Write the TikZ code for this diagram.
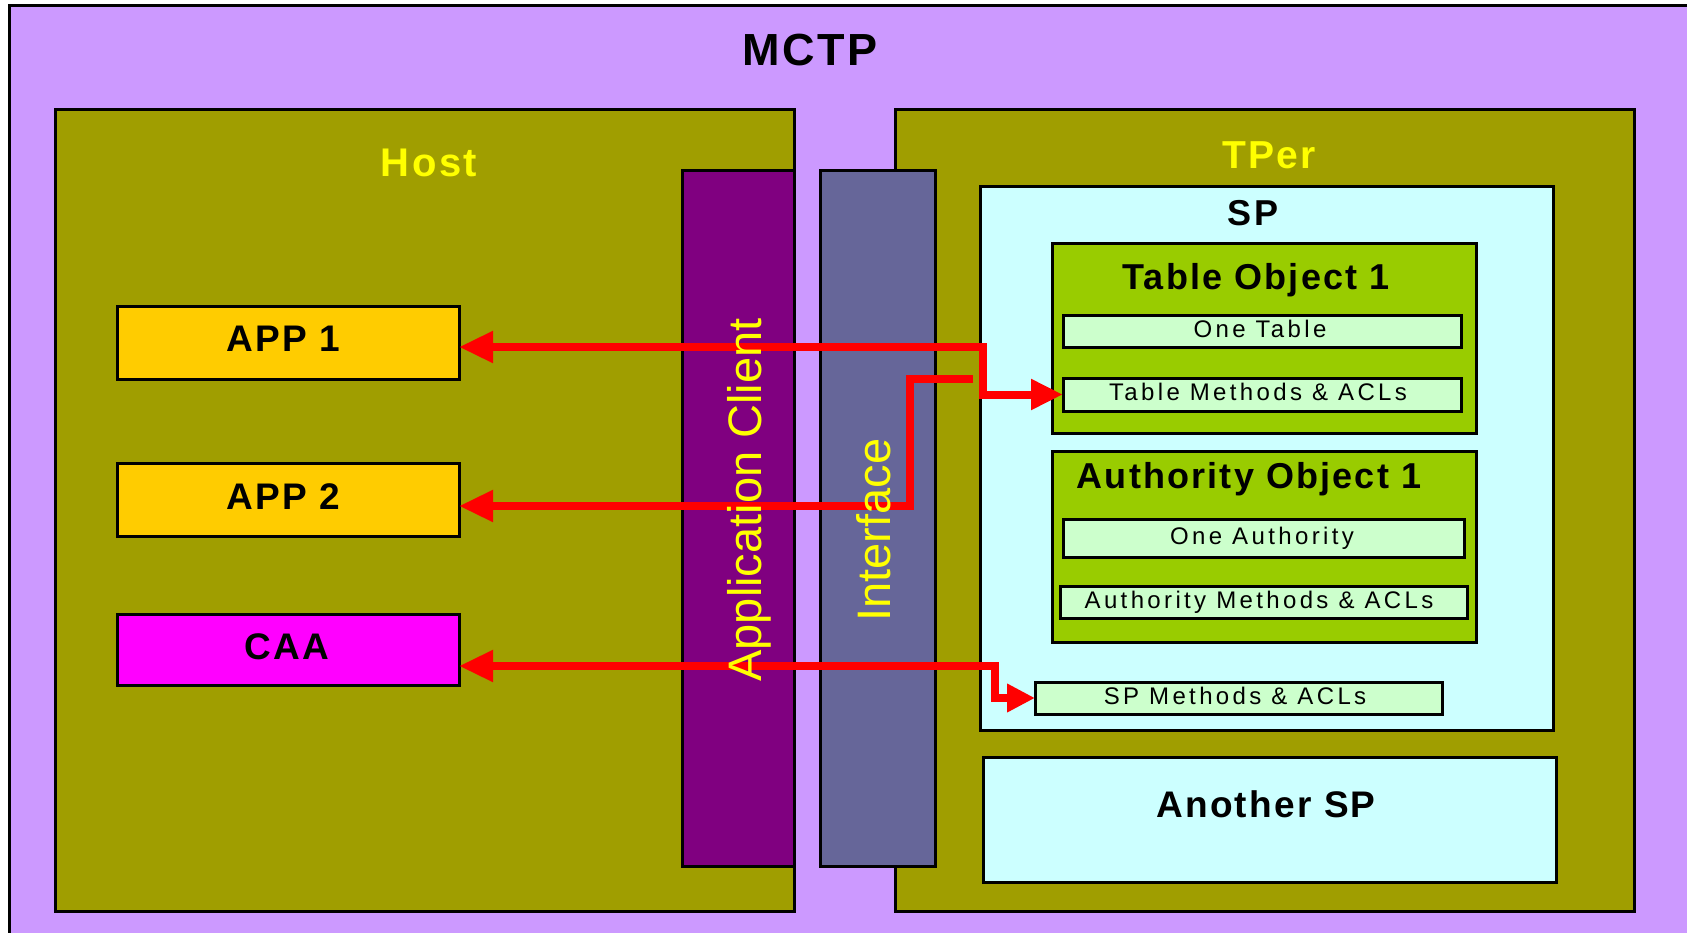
\documentclass[tikz,border=0pt]{standalone}
\usepackage{fontspec}
\setmainfont{Liberation Sans}
\newfontfamily\ttlfont[LetterSpace=6]{Liberation Sans}
\newfontfamily\smlfont[LetterSpace=14]{Liberation Sans}
\usetikzlibrary{arrows.meta}
\definecolor{lav}{HTML}{CC99FF}
\definecolor{olive}{RGB}{160,158,0}
\definecolor{purp}{HTML}{800080}
\definecolor{intf}{HTML}{666699}
\definecolor{spcyan}{HTML}{CCFFFF}
\definecolor{objgreen}{HTML}{99CC00}
\definecolor{ltgreen}{HTML}{CCFFCC}
\definecolor{appy}{HTML}{FFCC00}
\definecolor{caam}{HTML}{FF00FF}
\definecolor{txty}{HTML}{FFFF00}
\definecolor{lnred}{HTML}{FF0000}
\tikzset{
  bx/.style={draw=black, line width=3pt, inner sep=0pt, outer sep=0pt, anchor=north west},
  bigtitle/.style={anchor=base, inner sep=0pt, font=\ttlfont\bfseries\fontsize{36}{40}\selectfont},
  smalltxt/.style={anchor=base, inner sep=0pt, font=\smlfont\fontsize{24}{28}\selectfont},
  vtxt/.style={anchor=base, inner sep=0pt, rotate=90, text=txty, font=\fontsize{47}{52}\selectfont},
  redline/.style={draw=lnred, line width=8pt},
  bigtip/.style={-{Triangle[length=34pt,width=30pt]}},
}
\begin{document}
\begin{tikzpicture}[x=1pt,y=-1pt]
\useasboundingbox (0,0) rectangle (1687,932);
\fill[white] (0,0) rectangle (1687,932);
% boxes
\node[bx, fill=lav, minimum width=1720pt, minimum height=960pt] (mctp) at (9.5,5.5) {};
\node[bx, fill=olive, minimum width=738.5pt, minimum height=801.5pt] (host) at (55.5,109.5) {};
\node[bx, fill=olive, minimum width=739pt, minimum height=801.5pt] (tper) at (895,109.5) {};
\node[bx, fill=purp, minimum width=112pt, minimum height=696pt] (appc) at (682,170) {};
\node[bx, fill=intf, minimum width=115pt, minimum height=696pt] (intfbar) at (820,170) {};
\node[bx, fill=spcyan, minimum width=573pt, minimum height=544pt] (sp) at (980,186) {};
\node[bx, fill=spcyan, minimum width=573pt, minimum height=125pt] (anothersp) at (983,757) {};
\node[bx, fill=objgreen, minimum width=424pt, minimum height=190pt] (tobj) at (1052,243) {};
\node[bx, fill=ltgreen, minimum width=398pt, minimum height=32pt] (onetable) at (1063,315) {};
\node[bx, fill=ltgreen, minimum width=398pt, minimum height=33pt] (tmeth) at (1063,378) {};
\node[bx, fill=objgreen, minimum width=424pt, minimum height=191pt] (aobj) at (1052,451) {};
\node[bx, fill=ltgreen, minimum width=401pt, minimum height=38pt] (oneauth) at (1063,519) {};
\node[bx, fill=ltgreen, minimum width=407pt, minimum height=32pt] (ameth) at (1060,586) {};
\node[bx, fill=ltgreen, minimum width=407pt, minimum height=32pt] (spmeth) at (1035,682) {};
\node[bx, fill=appy, minimum width=342pt, minimum height=73pt] (app1) at (117,306) {};
\node[bx, fill=appy, minimum width=342pt, minimum height=73pt] (app2) at (117,463) {};
\node[bx, fill=caam, minimum width=342pt, minimum height=71pt] (caa) at (117,614) {};
% titles
\node[bigtitle, font=\ttlfont\bfseries\fontsize{45}{50}\selectfont] (tmctp) at (810,65) {MCTP};
\node[bigtitle, text=txty, font=\ttlfont\bfseries\fontsize{40}{44}\selectfont] (thost) at (429,176) {Host};
\node[bigtitle, text=txty, font=\ttlfont\bfseries\fontsize{39}{44}\selectfont] (ttper) at (1269,168) {TPer};
\node[bigtitle] (tsp) at (1253,225) {SP};
\node[bigtitle] (ttobj) at (1256,289) {Table Object 1};
\node[bigtitle] (taobj) at (1249,488) {Authority Object 1};
\node[bigtitle, font=\ttlfont\bfseries\fontsize{37}{40}\selectfont] (tanother) at (1266,817) {Another SP};
\node[bigtitle, font=\ttlfont\bfseries\fontsize{37}{40}\selectfont] (tapp1) at (283,351) {APP 1};
\node[bigtitle, font=\ttlfont\bfseries\fontsize{37}{40}\selectfont] (tapp2) at (283,509) {APP 2};
\node[bigtitle, font=\ttlfont\bfseries\fontsize{37}{40}\selectfont] (tcaa) at (287,659) {CAA};
\node[smalltxt] (tonetable) at (1260,337) {One Table};
\node[smalltxt] (ttmeth) at (1258,400) {Table Methods \& ACLs};
\node[smalltxt] (toneauth) at (1262,544) {One Authority};
\node[smalltxt] (tameth) at (1259,608) {Authority Methods \& ACLs};
\node[smalltxt] (tspmeth) at (1235,704) {SP Methods \& ACLs};
% connectors
\coordinate (a1b1) at (983,394.5);
\coordinate (a1b2) at (983,347);
\draw[redline, {Triangle[length=34pt,width=30pt]}-{Triangle[length=32pt,width=29pt]}]
  (app1.east |- a1b2) -- (a1b2) -- (a1b1) -- (tmeth.west);
\coordinate (b0) at (973,379);
\coordinate (b1) at (910,379);
\coordinate (b2) at (910,506);
\draw[redline, bigtip] (b0) -- (b1) -- (b2) -- (app2.east |- b2);
\coordinate (c1) at (995,666);
\coordinate (c2) at (995,698);
\draw[redline, {Triangle[length=34pt,width=30pt]}-{Triangle[length=28pt,width=27pt]}]
  (caa.east |- c1) -- (c1) -- (c2) -- (spmeth.west);
% vertical texts
\node[vtxt] (tappc) at (761,500) {Application Client};
\node[vtxt] (tintf) at (890,530) {Interface};
\end{tikzpicture}
\end{document}
